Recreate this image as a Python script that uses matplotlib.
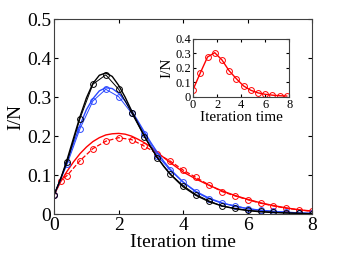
import matplotlib
matplotlib.use('Agg')

import matplotlib.pyplot as plt

plt.rcParams['font.family'] = ['Liberation Serif', 'DejaVu Serif']

# time grid of the samples (red simulation has one extra early point)
t = [0, 0.4, 0.8, 1.2, 1.6, 2.0, 2.4, 2.8, 3.2, 3.6, 4.0,
     4.4, 4.8, 5.2, 5.6, 6.0, 6.4, 6.8, 7.2, 7.6, 8.0]
t_red = [0, 0.2, 0.4, 0.8, 1.2, 1.6, 2.0, 2.4, 2.8, 3.2, 3.6, 4.0,
         4.4, 4.8, 5.2, 5.6, 6.0, 6.4, 6.8, 7.2, 7.6, 8.0]

t_th = [0, 0.2, 0.4, 0.6, 0.8, 1.0, 1.2, 1.4, 1.6, 1.8, 2.0, 2.2, 2.4, 2.6, 2.8,
        3.0, 3.2, 3.4, 3.6, 4.0, 4.4, 4.8, 5.2, 5.6, 6.0, 6.4, 6.8, 7.2, 7.6, 8.0]
black_th = [0.05, 0.09, 0.14, 0.195, 0.25, 0.298, 0.335, 0.356, 0.362, 0.353, 0.33,
            0.30, 0.265, 0.232, 0.20, 0.171, 0.145, 0.122, 0.102, 0.07,
            0.048, 0.032, 0.021, 0.014, 0.009, 0.006, 0.004, 0.003, 0.002, 0.001]
blue_th = [0.05, 0.09, 0.135, 0.182, 0.228, 0.268, 0.296, 0.316, 0.324, 0.322, 0.31,
           0.29, 0.265, 0.238, 0.21, 0.183, 0.158, 0.135, 0.115, 0.082,
           0.058, 0.041, 0.029, 0.02, 0.014, 0.01, 0.007, 0.005, 0.003, 0.002]
red_th = [0.05, 0.083, 0.11, 0.134, 0.155, 0.172, 0.186, 0.196, 0.203, 0.206, 0.207,
          0.205, 0.20, 0.192, 0.183, 0.172, 0.158, 0.145, 0.132, 0.108,
          0.09, 0.074, 0.06, 0.048, 0.038, 0.029, 0.022, 0.016, 0.011, 0.008]

# simulation points (circles)
black_sim = [0.05, 0.133, 0.245, 0.333, 0.357, 0.32, 0.26, 0.198, 0.144, 0.103, 0.073,
             0.05, 0.034, 0.021, 0.015, 0.01, 0.007, 0.005, 0.003, 0.002, 0.001]
blue_sim = [0.05, 0.128, 0.219, 0.29, 0.32, 0.301, 0.259, 0.206, 0.15, 0.112, 0.082,
            0.056, 0.039, 0.028, 0.022, 0.014, 0.01, 0.007, 0.005, 0.003, 0.002]
red_sim = [0.049, 0.086, 0.099, 0.137, 0.168, 0.187, 0.196, 0.191, 0.174, 0.155, 0.136,
           0.113, 0.094, 0.075, 0.058, 0.047, 0.037, 0.028, 0.021, 0.015, 0.011, 0.007]

# inset
t_in = [0, 0.6, 1.2, 1.8, 2.4, 3.0, 3.6, 4.2, 4.8, 5.4, 6.0, 6.6, 7.2, 7.8]
red_in = [0.05, 0.165, 0.275, 0.305, 0.255, 0.18, 0.125, 0.075, 0.045, 0.027,
          0.017, 0.011, 0.007, 0.005]

fig = plt.figure(figsize=(3.43, 2.58), dpi=100)
ax = fig.add_axes([0.158, 0.17, 0.752, 0.756])

mk = dict(marker='o', markersize=4.2, markerfacecolor='none', markeredgewidth=0.7)
ax.plot(t_th, red_th, color='red', lw=1.0)
ax.plot(t_red, red_sim, color='red', lw=0.9, ls='--', **mk)
ax.plot(t_th, blue_th, color='#2a48ff', lw=1.0)
ax.plot(t, blue_sim, color='#2a48ff', lw=0.7, **mk)
ax.plot(t_th, black_th, color='black', lw=1.0)
ax.plot(t, black_sim, color='black', lw=0.7, **mk)

ax.set_xlim(0, 8)
ax.set_ylim(0, 0.5)
ax.set_xticks([0, 2, 4, 6, 8])
ax.set_yticks([0, 0.1, 0.2, 0.3, 0.4, 0.5])
ax.set_yticklabels(['0', '0.1', '0.2', '0.3', '0.4', '0.5'])
ax.tick_params(direction='in', top=True, right=True, labelsize=14, length=3, pad=2)
ax.set_xlabel('Iteration time', fontsize=14, labelpad=0)
ax.set_ylabel('I/N', fontsize=14, labelpad=2)
for s in ax.spines.values():
    s.set_color('#404040')
    s.set_linewidth(0.8)

# inset
axi = fig.add_axes([0.563, 0.625, 0.280, 0.224])
axi.plot(t_in, red_in, color='red', lw=1.0, **mk)
axi.set_xlim(0, 8)
axi.set_ylim(0, 0.4)
axi.set_xticks([0, 2, 4, 6, 8])
axi.set_yticks([0, 0.1, 0.2, 0.3, 0.4])
axi.set_yticklabels(['0', '0.1', '0.2', '0.3', '0.4'])
axi.tick_params(direction='in', top=True, right=True, labelsize=9, length=2, pad=1.5)
axi.set_xlabel('Iteration time', fontsize=11, labelpad=0)
axi.set_ylabel('I/N', fontsize=11, labelpad=1)
for s in axi.spines.values():
    s.set_color('#404040')
    s.set_linewidth(0.8)

fig.savefig('out.png', dpi=100)
